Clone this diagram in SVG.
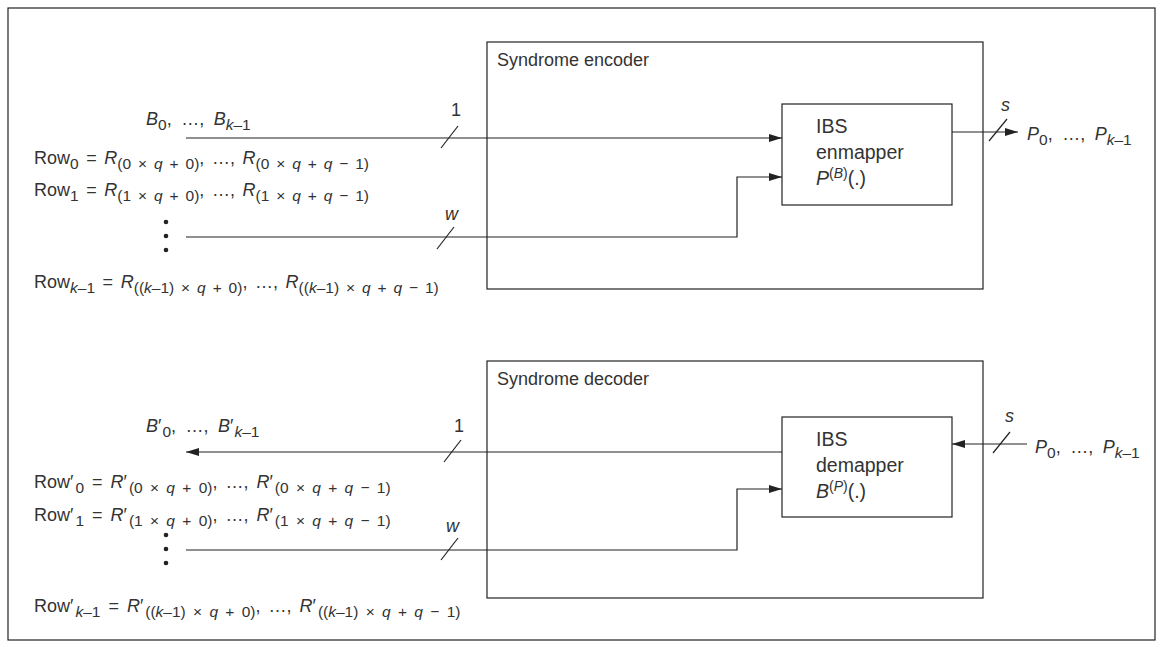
<svg xmlns="http://www.w3.org/2000/svg" width="1163" height="648" viewBox="0 0 1163 648">
<defs>
<marker id="ah" viewBox="0 0 13 8" refX="13" refY="4" markerWidth="13" markerHeight="8" markerUnits="userSpaceOnUse" orient="auto">
<path d="M0,0 L13,4 L0,8 Z" fill="#222"/>
</marker>
</defs>
<style>
.box{fill:none;stroke:#222;stroke-width:1.2}
.ln{fill:none;stroke:#222;stroke-width:1.2}
.t{font-family:"Liberation Sans",Arial,sans-serif;font-size:18px;fill:#333}
.h{font-size:18px}
.m{font-size:19.5px}
.i{font-style:italic}
.s{font-size:15.5px}
.sp{font-size:14px}
.r{word-spacing:2.6px}
.rp{word-spacing:3px}
.l{word-spacing:4.5px}
</style>
<rect x="0" y="0" width="1163" height="648" fill="#fff"/>
<g id="frame"><rect class="box" x="8" y="8" width="1147" height="632"/></g>

<g id="encoder">
<rect class="box" x="487" y="42" width="496" height="247"/>
<text class="t h" x="497" y="66">Syndrome encoder</text>
</g>
<g id="enmapper">
<rect class="box" x="782" y="104" width="170" height="101"/>
<text class="t m" x="816" y="133">IBS</text>
<text class="t m" x="816" y="159">enmapper</text>
<text class="t m" x="816" y="185"><tspan class="i">P</tspan><tspan class="sp" dy="-7">(<tspan class="i">B</tspan>)</tspan><tspan dy="7">(.)</tspan></text>
</g>

<g id="decoder">
<rect class="box" x="487" y="361" width="496" height="237"/>
<text class="t h" x="497" y="385">Syndrome decoder</text>
</g>
<g id="demapper">
<rect class="box" x="782" y="417" width="170" height="100"/>
<text class="t m" x="816" y="446">IBS</text>
<text class="t m" x="816" y="472">demapper</text>
<text class="t m" x="816" y="498"><tspan class="i">B</tspan><tspan class="sp" dy="-7">(<tspan class="i">P</tspan>)</tspan><tspan dy="7">(.)</tspan></text>
</g>

<g id="enc-labels">
<text class="t l" x="146" y="125"><tspan class="i">B</tspan><tspan class="s" dy="5">0</tspan><tspan dy="-5">, …, </tspan><tspan class="i">B</tspan><tspan class="s" dy="5"><tspan class="i">k</tspan>–1</tspan></text>
<text class="t" x="451" y="116">1</text>
<text class="t r" x="34" y="164">Row<tspan class="s" dy="5">0</tspan><tspan dy="-5"> = </tspan><tspan class="i">R</tspan><tspan class="s" dy="5">(0 × <tspan class="i">q</tspan> + 0)</tspan><tspan dy="-5">, …, </tspan><tspan class="i">R</tspan><tspan class="s" dy="5">(0 × <tspan class="i">q</tspan>  + <tspan class="i">q</tspan> − 1)</tspan></text>
<text class="t r" x="34" y="196">Row<tspan class="s" dy="5">1</tspan><tspan dy="-5"> = </tspan><tspan class="i">R</tspan><tspan class="s" dy="5">(1 × <tspan class="i">q</tspan> + 0)</tspan><tspan dy="-5">, …, </tspan><tspan class="i">R</tspan><tspan class="s" dy="5">(1 × <tspan class="i">q</tspan>  + <tspan class="i">q</tspan> − 1)</tspan></text>
<text class="t i" x="445" y="220">w</text>
<text class="t r" x="34" y="288">Row<tspan class="s" dy="5"><tspan class="i">k</tspan>–1</tspan><tspan dy="-5"> = </tspan><tspan class="i">R</tspan><tspan class="s" dy="5">((<tspan class="i">k</tspan>–1) × <tspan class="i">q</tspan> + 0)</tspan><tspan dy="-5">, …, </tspan><tspan class="i">R</tspan><tspan class="s" dy="5">((<tspan class="i">k</tspan>–1) × <tspan class="i">q</tspan>  + <tspan class="i">q</tspan> − 1)</tspan></text>
<text class="t i" x="1001" y="111">s</text>
<text class="t l" x="1027" y="140"><tspan class="i">P</tspan><tspan class="s" dy="5">0</tspan><tspan dy="-5">, …, </tspan><tspan class="i">P</tspan><tspan class="s" dy="5"><tspan class="i">k</tspan>–1</tspan></text>
</g>

<g id="dec-labels">
<text class="t l" x="146" y="432"><tspan class="i">B</tspan>′<tspan class="s" dx="1" dy="5">0</tspan><tspan dy="-5">, …, </tspan><tspan class="i">B</tspan>′<tspan class="s" dx="1" dy="5"><tspan class="i">k</tspan>–1</tspan></text>
<text class="t" x="454" y="432">1</text>
<text class="t rp" x="34" y="488">Row′<tspan class="s" dx="2" dy="5">0</tspan><tspan dy="-5"> = </tspan><tspan class="i">R</tspan>′<tspan class="s" dx="2" dy="5">(0 × <tspan class="i">q</tspan> + 0)</tspan><tspan dy="-5">, …, </tspan><tspan class="i">R</tspan>′<tspan class="s" dx="2" dy="5">(0 × <tspan class="i">q</tspan>  + <tspan class="i">q</tspan> − 1)</tspan></text>
<text class="t rp" x="34" y="521">Row′<tspan class="s" dx="2" dy="5">1</tspan><tspan dy="-5"> = </tspan><tspan class="i">R</tspan>′<tspan class="s" dx="2" dy="5">(1 × <tspan class="i">q</tspan> + 0)</tspan><tspan dy="-5">, …, </tspan><tspan class="i">R</tspan>′<tspan class="s" dx="2" dy="5">(1 × <tspan class="i">q</tspan>  + <tspan class="i">q</tspan> − 1)</tspan></text>
<text class="t i" x="446" y="532">w</text>
<text class="t rp" x="34" y="612">Row′<tspan class="s" dx="2" dy="5"><tspan class="i">k</tspan>–1</tspan><tspan dy="-5"> = </tspan><tspan class="i">R</tspan>′<tspan class="s" dx="2" dy="5">((<tspan class="i">k</tspan>–1) × <tspan class="i">q</tspan> + 0)</tspan><tspan dy="-5">, …, </tspan><tspan class="i">R</tspan>′<tspan class="s" dx="2" dy="5">((<tspan class="i">k</tspan>–1) × <tspan class="i">q</tspan>  + <tspan class="i">q</tspan> − 1)</tspan></text>
<text class="t i" x="1005" y="422">s</text>
<text class="t l" x="1035" y="453"><tspan class="i">P</tspan><tspan class="s" dy="5">0</tspan><tspan dy="-5">, …, </tspan><tspan class="i">P</tspan><tspan class="s" dy="5"><tspan class="i">k</tspan>–1</tspan></text>
</g>

<g id="dots" fill="#222">
<circle cx="166" cy="222" r="2.3"/><circle cx="166" cy="236" r="2.3"/><circle cx="166" cy="250" r="2.3"/>
<circle cx="166" cy="535" r="2.3"/><circle cx="166" cy="549" r="2.3"/><circle cx="166" cy="563" r="2.3"/>
</g>

<g id="connectors">
<line class="ln" x1="186" y1="138" x2="782" y2="138" marker-end="url(#ah)"/>
<polyline class="ln" points="186,237 737,237 737,177 782,177" marker-end="url(#ah)"/>
<line class="ln" x1="952" y1="132" x2="1018" y2="132" marker-end="url(#ah)"/>
<line class="ln" x1="782" y1="452" x2="186" y2="452" marker-end="url(#ah)"/>
<polyline class="ln" points="186,550 737,550 737,489 782,489" marker-end="url(#ah)"/>
<line class="ln" x1="1027" y1="444" x2="952" y2="444" marker-end="url(#ah)"/>
<g id="slashes">
<line class="ln" x1="441" y1="148" x2="458" y2="126"/>
<line class="ln" x1="437" y1="249" x2="454" y2="227"/>
<line class="ln" x1="989" y1="141" x2="1007" y2="119"/>
<line class="ln" x1="444" y1="462" x2="461" y2="440"/>
<line class="ln" x1="441" y1="560" x2="458" y2="538"/>
<line class="ln" x1="993" y1="453" x2="1010" y2="432"/>
</g>
</g>
</svg>
